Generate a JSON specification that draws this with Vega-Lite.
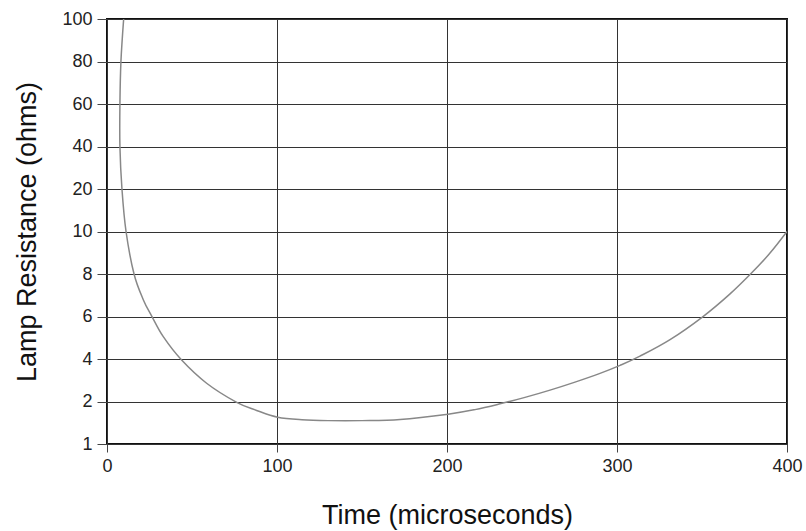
{
  "$schema": "https://vega.github.io/schema/vega-lite/v6.json",
  "width": 680,
  "height": 425,
  "autosize": "none",
  "padding": {"left": 107, "top": 19, "right": 19, "bottom": 87},
  "background": "white",
  "config": {
    "font": "Liberation Sans",
    "view": {"stroke": "#111", "strokeWidth": 2}
  },
  "data": {
    "values": [
      {"i": 0, "t": 9.8, "r": 100},
      {"i": 1, "t": 8.2, "r": 80},
      {"i": 2, "t": 7.6, "r": 60},
      {"i": 3, "t": 7.6, "r": 40},
      {"i": 4, "t": 8.8, "r": 20},
      {"i": 5, "t": 11.2, "r": 10},
      {"i": 6, "t": 15.9, "r": 8},
      {"i": 7, "t": 21.4, "r": 6.78},
      {"i": 8, "t": 26.3, "r": 6.02},
      {"i": 9, "t": 33.1, "r": 5.05},
      {"i": 10, "t": 43.9, "r": 3.95},
      {"i": 11, "t": 58.6, "r": 2.86},
      {"i": 12, "t": 76.3, "r": 1.98},
      {"i": 13, "t": 88, "r": 1.79},
      {"i": 14, "t": 100.4, "r": 1.63},
      {"i": 15, "t": 114.7, "r": 1.57},
      {"i": 16, "t": 130, "r": 1.55},
      {"i": 17, "t": 150, "r": 1.55},
      {"i": 18, "t": 172.4, "r": 1.576},
      {"i": 19, "t": 200.6, "r": 1.701},
      {"i": 20, "t": 216.5, "r": 1.809},
      {"i": 21, "t": 231.2, "r": 1.945},
      {"i": 22, "t": 245.9, "r": 2.195},
      {"i": 23, "t": 260.6, "r": 2.536},
      {"i": 24, "t": 275.3, "r": 2.913},
      {"i": 25, "t": 290, "r": 3.325},
      {"i": 26, "t": 301.8, "r": 3.701},
      {"i": 27, "t": 313.5, "r": 4.134},
      {"i": 28, "t": 331.2, "r": 4.911},
      {"i": 29, "t": 350.6, "r": 5.998},
      {"i": 30, "t": 366.5, "r": 7.065},
      {"i": 31, "t": 379.4, "r": 8.069},
      {"i": 32, "t": 390, "r": 8.984},
      {"i": 33, "t": 400, "r": 10}
    ]
  },
  "mark": {"type": "line", "interpolate": "cardinal", "color": "#888", "strokeWidth": 1.5, "clip": true},
  "encoding": {
    "order": {"field": "i", "type": "quantitative"},
    "x": {
      "field": "t",
      "type": "quantitative",
      "scale": {"domain": [0, 400], "nice": false, "zero": false},
      "axis": {
        "title": "Time (microseconds)",
        "values": [0, 100, 200, 300, 400],
        "grid": true,
        "gridColor": "#333",
        "gridWidth": 1,
        "gridOpacity": 1,
        "domain": false,
        "tickColor": "#444",
        "tickSize": 8,
        "labelFontSize": 18,
        "labelColor": "#222",
        "labelPadding": 5,
        "labelFlush": false,
        "titleFontSize": 27,
        "titleFontWeight": "normal",
        "titleColor": "#111",
        "titlePadding": 27
      }
    },
    "y": {
      "field": "r",
      "type": "quantitative",
      "scale": {
        "type": "linear",
        "domain": [1, 2, 4, 6, 8, 10, 20, 40, 60, 80, 100],
        "range": [425, 382.5, 340, 297.5, 255, 212.5, 170, 127.5, 85, 42.5, 0],
        "nice": false,
        "zero": false
      },
      "axis": {
        "title": "Lamp Resistance (ohms)",
        "values": [1, 2, 4, 6, 8, 10, 20, 40, 60, 80, 100],
        "grid": true,
        "gridColor": "#333",
        "gridWidth": 1,
        "gridOpacity": 1,
        "domain": false,
        "tickColor": "#444",
        "tickSize": 10,
        "labelFontSize": 18,
        "labelColor": "#222",
        "labelPadding": 5,
        "labelFlush": false,
        "titleFontSize": 27,
        "titleFontWeight": "normal",
        "titleColor": "#111",
        "titlePadding": 20
      }
    }
  }
}
